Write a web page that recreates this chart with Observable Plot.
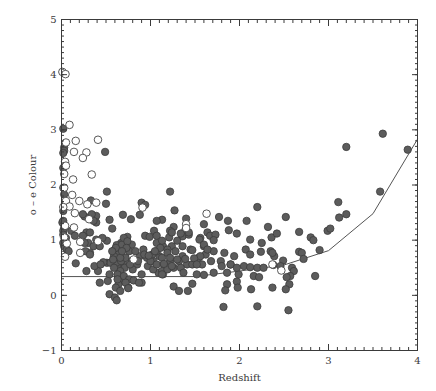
<!DOCTYPE html>
<html>
<head>
<meta charset="utf-8">
<script src="https://cdn.jsdelivr.net/npm/d3@7"></script>
<script src="https://cdn.jsdelivr.net/npm/@observablehq/plot@0.6"></script>
<style>
  html, body { margin: 0; padding: 0; background: #fff; }
  #chart { width: 436px; height: 391px; }
</style>
</head>
<body>
<div id="chart"></div>
<script>
// Filled symbols (x = redshift, y = o-e colour)
const filledX = [0.02,0.03,0.03,0.02,0.02,0.02,0.03,0.05,0.02,0.01,0.02,0.03,0.02,0.02,0.05,0.02,0.03,0.06,0.08,0.11,0.15,0.16,
0.49,0.51,0.50,0.33,0.90,0.94,1.22,0.69,0.88,0.54,0.57,0.78,0.74,0.67,0.62,0.60,0.79,0.94,0.99,1.04,0.92,0.88,0.96,1.03,1.10,1.14,1.07,1.09,1.14,
0.69,0.62,0.51,0.55,0.54,0.65,0.64,0.69,0.64,0.90,0.75,0.43,0.52,0.54,0.60,0.62,0.28,0.41,0.37,0.32,0.30,0.36,0.43,0.28,0.32,0.39,0.24,0.51,
0.39,0.34,0.26,0.39,0.36,0.24,0.27,0.32,0.46,0.26,0.68,0.61,0.64,0.59,0.67,0.72,0.76,0.70,0.74,0.83,0.79,0.85,0.71,0.66,0.63,0.70,0.76,0.81,0.87,0.72,
0.61,0.66,0.75,0.63,0.59,0.97,1.03,0.90,1.07,1.02,1.00,1.07,1.13,1.07,1.15,1.13,0.93,1.13,1.07,1.27,1.26,1.22,1.24,1.19,1.28,1.36,1.32,1.22,1.19,1.26,1.26,
1.40,1.39,1.36,1.43,1.45,1.41,1.47,1.54,1.56,1.60,1.62,1.58,1.52,1.47,1.32,1.42,1.60,1.64,1.67,1.73,1.71,1.55,1.77,1.87,1.88,1.97,1.71,1.68,1.71,1.79,1.83,
1.94,1.90,1.80,1.86,1.99,1.86,1.97,1.98,1.84,1.82,2.05,2.07,2.08,2.12,2.12,2.12,2.16,2.20,2.22,2.13,2.20,2.24,2.25,2.27,2.32,2.36,2.42,2.35,2.39,2.37,2.38,
2.37,2.20,2.49,2.46,2.52,2.59,2.61,2.57,2.53,2.56,2.52,2.55,2.67,2.67,2.70,2.72,2.80,2.83,2.90,2.85,2.99,3.02,3.11,3.12,3.20,3.20,3.58,3.61,3.89,
1.21,1.13,1.30,1.36,1.11,1.19,1.47,1.60,1.64,1.56,1.49,1.39,1.30,1.22,1.15,1.24,1.34,1.13,1.37,1.52,1.60,1.90,1.97,1.24,1.43,1.34,0.66,0.73,0.58,0.80,
0.68,0.77,0.86,0.57,0.47,0.44,1.05,0.98];
const filledY = [3.02,2.68,2.62,2.58,2.31,1.95,1.83,1.65,1.53,1.32,1.35,1.23,1.17,1.10,1.04,0.95,0.89,0.83,0.80,1.17,1.08,0.58,
2.60,1.88,1.66,1.72,1.68,1.64,1.88,1.46,1.46,1.37,1.21,1.38,1.06,0.95,0.91,0.83,0.92,1.08,1.06,1.17,0.83,0.71,0.68,0.62,0.71,0.89,0.95,0.41,0.38,
0.59,0.59,0.59,0.59,0.38,0.47,0.32,0.26,0.20,0.23,0.14,0.23,0.26,0.02,-0.04,-0.09,0.44,0.44,0.53,0.77,0.95,0.89,0.89,1.14,1.14,1.01,1.08,0.99,
1.44,1.47,1.43,1.32,1.35,1.47,0.80,0.74,1.04,0.95,0.92,0.86,0.74,0.71,0.62,0.68,0.80,1.04,0.98,0.80,0.62,0.56,0.50,0.44,0.38,0.35,0.29,0.27,0.23,0.23,
0.14,0.08,0.13,0.29,0.50,0.53,0.47,0.38,1.08,0.74,0.62,0.80,0.68,0.56,0.56,0.44,0.74,1.37,1.35,1.54,1.24,1.17,0.89,0.83,0.80,0.71,0.62,0.62,0.47,0.50,0.16,
1.39,1.17,1.07,1.10,0.83,0.56,0.56,0.68,1.04,0.89,0.74,0.56,0.38,0.21,0.08,0.08,1.29,1.14,1.08,1.10,1.00,1.01,1.42,1.35,1.18,1.12,0.80,0.62,0.41,0.62,0.77,
0.71,0.56,0.53,0.41,0.38,0.20,0.25,0.14,0.09,-0.21,0.53,0.83,1.35,1.01,0.74,0.51,0.35,0.50,0.33,0.11,1.60,0.79,0.95,0.50,1.24,1.05,1.12,0.80,0.71,0.77,0.55,
0.14,-0.20,0.63,0.53,1.42,0.50,0.44,0.35,0.33,0.20,0.11,-0.27,1.15,0.79,0.77,0.66,1.05,1.00,0.82,0.35,1.17,1.21,1.69,1.41,1.47,2.69,1.88,2.93,2.64,
1.05,0.99,0.99,0.89,0.86,0.77,0.82,0.92,0.83,0.71,0.67,0.66,0.65,0.68,0.57,0.53,0.50,0.38,0.41,0.56,0.37,0.56,0.50,1.14,1.14,1.12,0.68,0.86,0.65,0.47,
0.80,0.56,0.62,0.80,0.60,0.56,0.80,0.72];

// Open symbols
const openX = [0.01,0.045,0.09,0.05,0.16,0.41,0.14,0.28,0.24,0.04,0.05,0.03,0.34,0.13,0.03,0.12,0.20,0.29,0.39,0.05,0.09,0.15,0.31,0.04,0.14,0.21,0.06,0.04,0.21,0.41,0.81,0.91,1.40,1.40,1.63,2.37,2.47,0.02,0.03];
const openY = [4.05,4.01,3.09,2.77,2.80,2.82,2.60,2.59,2.49,2.42,2.35,2.20,2.19,2.10,1.95,1.82,1.71,1.65,1.68,1.71,1.61,1.49,1.38,1.26,1.23,0.97,0.94,0.70,0.77,0.98,0.65,1.59,1.29,1.22,1.48,0.56,0.45,1.60,1.05];

// Model track
const lineX = [0, 1.5, 2.0, 2.5, 3.0, 3.5, 4.0];
const lineY = [0.34, 0.34, 0.44, 0.55, 0.81, 1.48, 2.83];

const xMajor = [0, 1, 2, 3, 4];
const yMajor = [-1, 0, 1, 2, 3, 4, 5];
const xMinor = d3.range(0, 41).map(d => d / 10);
const yMinor = d3.range(-10, 51).map(d => d / 10);

const filled = filledX.map((x, i) => ({x, y: filledY[i]}));
const open = openX.map((x, i) => ({x, y: openY[i]}));
const track = lineX.map((x, i) => ({x, y: lineY[i]}));

const ink = "#3a3a3a";
const chart = Plot.plot({
  width: 436,
  height: 391,
  marginLeft: 61,
  marginRight: 19,
  marginTop: 19,
  marginBottom: 41,
  style: {fontFamily: "DejaVu Serif", fontSize: "10px", background: "#fff", color: ink},
  x: {domain: [0, 4]},
  y: {domain: [-1, 5]},
  marks: [
    Plot.line(track, {x: "x", y: "y", stroke: "#555", strokeWidth: 1}),
    Plot.dot(filled, {x: "x", y: "y", r: 3.7, fill: "#5c5c5c", stroke: "#3c3c3c", strokeWidth: 0.8}),
    Plot.dot(open, {x: "x", y: "y", r: 3.8, fill: "#fff", stroke: "#444", strokeWidth: 0.9}),
    Plot.frame({stroke: ink}),
    // minor ticks (inward)
    Plot.axisX({ticks: xMinor, tickSize: -3, text: null, label: null, stroke: ink}),
    Plot.axisX({anchor: "top", ticks: xMinor, tickSize: -3, text: null, label: null, stroke: ink}),
    Plot.axisY({ticks: yMinor, tickSize: -3, text: null, label: null, stroke: ink}),
    Plot.axisY({anchor: "right", ticks: yMinor, tickSize: -3, text: null, label: null, stroke: ink}),
    // major ticks (inward)
    Plot.axisX({ticks: xMajor, tickSize: -6, text: null, label: null, stroke: ink}),
    Plot.axisX({anchor: "top", ticks: xMajor, tickSize: -6, text: null, label: null, stroke: ink}),
    Plot.axisY({ticks: yMajor, tickSize: -6, text: null, label: null, stroke: ink}),
    Plot.axisY({anchor: "right", ticks: yMajor, tickSize: -6, text: null, label: null, stroke: ink}),
    // labels
    Plot.axisX({ticks: xMajor, tickSize: 0, tickPadding: 6, tickFormat: d3.format("d"),
      label: "Redshift", labelAnchor: "center", labelArrow: "none", labelOffset: 30, fill: ink}),
    Plot.axisY({ticks: yMajor, tickSize: 0, tickPadding: 5, tickFormat: d => d < 0 ? "\u2212" + Math.abs(d) : String(d),
      label: "o \u2013 e Colour", labelAnchor: "center", labelArrow: "none", labelOffset: 33, fill: ink})
  ]
});
document.getElementById("chart").appendChild(chart);
</script>
</body>
</html>
